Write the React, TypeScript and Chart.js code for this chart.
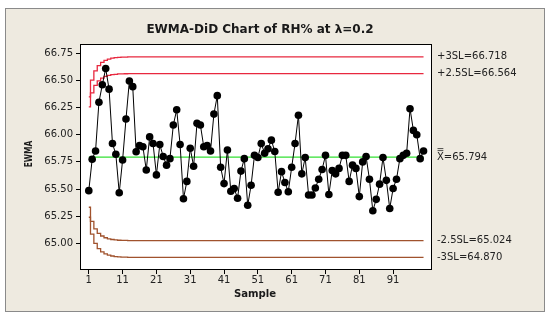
import { useEffect, useRef } from 'react';
import { Chart, registerables } from 'chart.js';

Chart.register(...registerables);

const titleText = 'EWMA-DiD Chart of RH% at λ=0.2';
const xTitle = 'Sample';
const yTitle = 'EWMA';

const samples = Array.from({ length: 100 }, (_, i) => i + 1);

const ewma = [
  65.485, 65.774, 65.85, 66.3, 66.46, 66.61, 66.42, 65.92, 65.82, 65.466,
  65.767, 66.145, 66.495, 66.443, 65.844, 65.9, 65.89, 65.675, 65.98, 65.92,
  65.63, 65.91, 65.8, 65.72, 65.78, 66.09, 66.23, 65.91, 65.41, 65.57,
  65.875, 65.71, 66.105, 66.09, 65.89, 65.9, 65.85, 66.19, 66.36, 65.7,
  65.55, 65.86, 65.48, 65.505, 65.415, 65.665, 65.78, 65.35, 65.535, 65.81,
  65.79, 65.92, 65.83, 65.87, 65.95, 65.845, 65.47, 65.66, 65.56, 65.475,
  65.7, 65.92, 66.18, 65.64, 65.79, 65.445, 65.445, 65.51, 65.59, 65.68,
  65.81, 65.45, 65.67, 65.64, 65.69, 65.81, 65.81, 65.57, 65.72, 65.69,
  65.43, 65.75, 65.8, 65.59, 65.3, 65.405, 65.545, 65.79, 65.58, 65.32,
  65.505, 65.59, 65.78, 65.81, 65.83, 66.24, 66.04, 66.0, 65.78, 65.85,
];

const limitSamples = [1, 2, 3, 4, 5, 6, 7, 8, 9, 10, 11, 12, 13, 14, 100];
const ucl3 = [66.348, 66.504, 66.588, 66.637, 66.667, 66.686, 66.697, 66.705, 66.71, 66.713, 66.715, 66.716, 66.717, 66.718, 66.718];
const ucl25 = [66.256, 66.386, 66.455, 66.497, 66.521, 66.537, 66.547, 66.553, 66.557, 66.56, 66.561, 66.562, 66.563, 66.564, 66.564];
const lcl25 = [65.332, 65.202, 65.133, 65.091, 65.067, 65.051, 65.041, 65.035, 65.031, 65.028, 65.027, 65.026, 65.025, 65.024, 65.024];
const lcl3 = [65.24, 65.084, 65.0, 64.951, 64.921, 64.902, 64.891, 64.883, 64.878, 64.875, 64.873, 64.872, 64.871, 64.87, 64.87];
const centerSamples = [1, 100];
const centerValues = [65.794, 65.794];

const xTicks = [1, 11, 21, 31, 41, 51, 61, 71, 81, 91];
const yTicks = [65.0, 65.25, 65.5, 65.75, 66.0, 66.25, 66.5, 66.75];

const limitLabels = [
  { text: '+3SL=66.718', value: 66.718 },
  { text: '+2.5SL=66.564', value: 66.564 },
  { text: 'X=65.794', value: 65.794, bar: true },
  { text: '-2.5SL=65.024', value: 65.024 },
  { text: '-3SL=64.870', value: 64.87 },
];

const FONT = "'DejaVu Sans', Verdana, sans-serif";

const pts = (xs: number[], ys: number[]) => xs.map((x, i) => ({ x, y: ys[i] }));

const decor = {
  id: 'decor',
  beforeDraw(chart: any) {
    const { ctx, chartArea } = chart;
    ctx.save();
    ctx.fillStyle = '#ffffff';
    ctx.fillRect(0, 0, chart.width, chart.height);
    ctx.fillStyle = '#EEEAE0';
    ctx.fillRect(5, 8, 540, 304);
    ctx.strokeStyle = '#8a8a8a';
    ctx.lineWidth = 1;
    ctx.strokeRect(5.5, 8.5, 539, 303);
    ctx.fillStyle = '#ffffff';
    ctx.fillRect(chartArea.left, chartArea.top, chartArea.right - chartArea.left, chartArea.bottom - chartArea.top);
    ctx.restore();
  },
  afterDraw(chart: any) {
    const { ctx, chartArea, scales } = chart;
    ctx.save();
    ctx.strokeStyle = '#000';
    ctx.lineWidth = 1;
    ctx.strokeRect(chartArea.left + 0.5, chartArea.top + 0.5, chartArea.right - chartArea.left - 1, chartArea.bottom - chartArea.top - 1);

    ctx.fillStyle = '#1a1a1a';
    ctx.font = `bold 12px ${FONT}`;
    ctx.textAlign = 'center';
    ctx.textBaseline = 'middle';
    ctx.fillText(titleText, 260, 30);

    ctx.save();
    ctx.translate(255, 294);
    ctx.scale(0.92, 1);
    ctx.font = `bold 11px ${FONT}`;
    ctx.fillText(xTitle, 0, 0);
    ctx.restore();

    ctx.save();
    ctx.translate(29.5, 154);
    ctx.rotate(-Math.PI / 2);
    ctx.scale(0.68, 1);
    ctx.font = `bold 11px ${FONT}`;
    ctx.fillText(yTitle, 0, 0);
    ctx.restore();

    ctx.font = `10px ${FONT}`;
    ctx.textAlign = 'left';
    ctx.fillStyle = '#222';
    const x0 = chartArea.right + 5;
    limitLabels.forEach((l: any) => {
      const y = scales.y.getPixelForValue(l.value);
      ctx.fillText(l.text, x0, y);
      if (l.bar) {
        const w = ctx.measureText('X').width;
        ctx.strokeStyle = '#222';
        ctx.lineWidth = 0.8;
        ctx.beginPath();
        ctx.moveTo(x0 + 0.5, y - 6.5);
        ctx.lineTo(x0 + w - 0.5, y - 6.5);
        ctx.moveTo(x0 + 0.5, y - 8.5);
        ctx.lineTo(x0 + w - 0.5, y - 8.5);
        ctx.stroke();
      }
    });
    ctx.restore();
  },
};

export default function App() {
  const ref = useRef<HTMLCanvasElement>(null);
  useEffect(() => {
    document.body.style.margin = '0';
    const lineDs = (data: any, color: string) => ({
      data,
      borderColor: color,
      borderWidth: 1.3,
      pointRadius: 0,
      stepped: 'middle' as const,
      fill: false,
    });
    const chart = new Chart(ref.current!, {
      type: 'line',
      data: {
        datasets: [
          {
            data: pts(samples, ewma),
            borderColor: '#000',
            borderWidth: 1,
            pointRadius: 3.8,
            pointBackgroundColor: '#000',
            pointBorderColor: '#000',
            pointBorderWidth: 0,
            tension: 0,
          },
          lineDs(pts(limitSamples, ucl3), '#E8283F'),
          lineDs(pts(limitSamples, ucl25), '#E8283F'),
          { ...lineDs(pts(centerSamples, centerValues), '#33E033'), stepped: false },
          lineDs(pts(limitSamples, lcl25), '#A0522D'),
          lineDs(pts(limitSamples, lcl3), '#A0522D'),
        ],
      },
      options: {
        responsive: false,
        animation: false,
        events: [],
        layout: { padding: { left: 0, top: 44, right: 118, bottom: 0 } },
        plugins: { legend: { display: false }, title: { display: false }, tooltip: { enabled: false } },
        scales: {
          x: {
            type: 'linear',
            min: -1.6,
            max: 102.5,
            afterFit: (s: any) => { s.height = 50; },
            afterBuildTicks: (s: any) => { s.ticks = xTicks.map((v) => ({ value: v })); },
            border: { display: false },
            grid: { drawOnChartArea: false, drawTicks: true, tickLength: 4, color: '#000' },
            ticks: { font: { family: FONT, size: 10 }, color: '#222', padding: 0, maxRotation: 0, callback: (v: any) => String(v) },
          },
          y: {
            type: 'linear',
            min: 64.754,
            max: 66.836,
            afterFit: (s: any) => { s.width = 80; },
            afterBuildTicks: (s: any) => { s.ticks = yTicks.map((v) => ({ value: v })); },
            border: { display: false },
            grid: { drawOnChartArea: false, drawTicks: true, tickLength: 4, color: '#000' },
            ticks: { font: { family: FONT, size: 10 }, color: '#222', padding: 3, callback: (v: any) => Number(v).toFixed(2) },
          },
        },
      },
      plugins: [decor],
    });
    return () => chart.destroy();
  }, []);
  return (
    <div style={{ position: 'fixed', left: 0, top: 0, width: 550, height: 320 }}>
      <canvas ref={ref} width={550} height={320} style={{ width: 550, height: 320 }} />
    </div>
  );
}
